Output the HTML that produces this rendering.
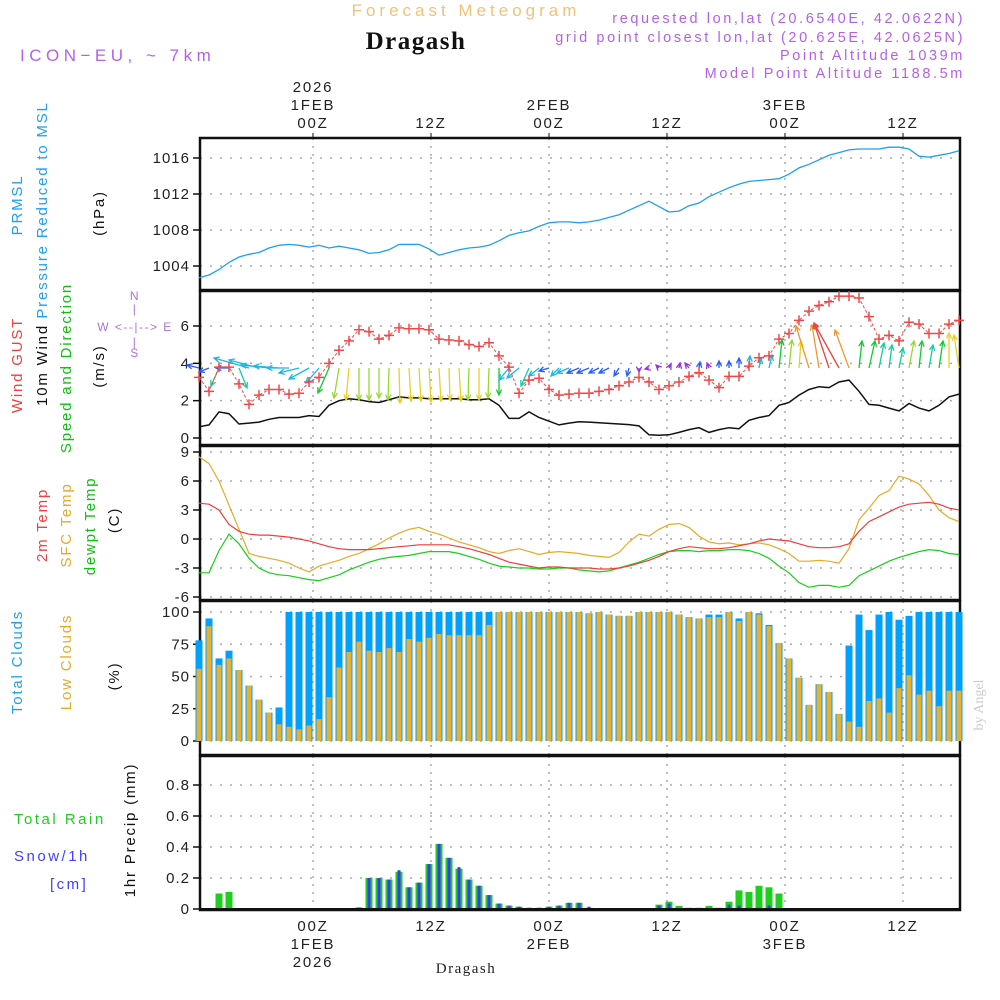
<!DOCTYPE html>
<html><head><meta charset="utf-8"><style>
body{margin:0;background:#fff;}
svg{display:block;font-family:"Liberation Sans",sans-serif;}
.t{font-size:15px;fill:#222;letter-spacing:1.8px;}
.tk{font-size:15px;fill:#222;letter-spacing:1px;text-anchor:end;}
.ax{font-size:15px;text-anchor:middle;fill:#222;letter-spacing:1.8px;}
</style></head><body>
<svg id="chart" width="1000" height="1000" viewBox="0 0 1000 1000">
<text x="466" y="16" text-anchor="middle" style="font-size:17px;fill:#f0c27a;letter-spacing:4px">Forecast Meteogram</text>
<text x="416" y="49" text-anchor="middle" style="font-size:25px;font-weight:bold;fill:#111;letter-spacing:1.5px;font-family:'Liberation Serif',serif">Dragash</text>
<text x="20" y="61" style="font-size:17px;fill:#b560e8;letter-spacing:4.5px">ICON−EU, ~ 7km</text>
<g style="font-size:14.5px;fill:#b560e8;letter-spacing:2.6px" text-anchor="end">
<text x="965" y="23">requested lon,lat (20.6540E, 42.0622N)</text>
<text x="965" y="42">grid point closest lon,lat (20.625E, 42.0625N)</text>
<text x="965" y="60">Point Altitude 1039m</text>
<text x="965" y="78">Model Point Altitude 1188.5m</text>
</g>
<g id="labels"></g>
<g id="plot"></g>
<text x="466" y="973" text-anchor="middle" style="font-size:15px;fill:#222;letter-spacing:1.5px;font-family:'Liberation Serif',serif">Dragash</text>
<text transform="translate(983,705) rotate(-90)" text-anchor="middle" style="font-size:14px;fill:#ccc;font-family:'Liberation Serif',serif">by Angel</text>
</svg>
<script>
const timeLabels = [{x:313,top:["2026","1FEB","00Z"],bot:["00Z","1FEB","2026"]},{x:431,top:["12Z"],bot:["12Z"]},{x:549,top:["2FEB","00Z"],bot:["00Z","2FEB"]},{x:667,top:["12Z"],bot:["12Z"]},{x:785,top:["3FEB","00Z"],bot:["00Z","3FEB"]},{x:903,top:["12Z"],bot:["12Z"]}];
const pressure = [1002.7,1003,1003.6,1004.4,1005,1005.3,1005.5,1006,1006.3,1006.4,1006.3,1006.1,1006.3,1006,1006.2,1006,1005.8,1005.4,1005.5,1005.8,1006.4,1006.4,1006.4,1005.9,1005.2,1005.5,1005.8,1006,1006.1,1006.3,1006.8,1007.4,1007.7,1007.9,1008.4,1008.8,1008.9,1008.9,1008.8,1008.9,1009.1,1009.4,1009.7,1010.2,1010.7,1011.2,1010.6,1010,1010.1,1010.7,1011,1011.7,1012.2,1012.7,1013.1,1013.4,1013.5,1013.6,1013.7,1014.2,1014.9,1015.3,1015.8,1016.3,1016.6,1016.9,1017,1017,1017,1017.2,1017.2,1017,1016.2,1016.1,1016.3,1016.5,1016.8];
const pressTicks = [1004,1008,1012,1016];
const gust = [3.25,2.5,3.8,3.8,2.9,1.8,2.3,2.6,2.6,2.35,2.4,3.0,3.25,4.0,4.7,5.2,5.8,5.7,5.3,5.5,5.9,5.85,5.85,5.8,5.3,5.25,5.2,5.0,4.9,5.1,4.4,3.8,2.4,3.1,3.2,2.6,2.3,2.35,2.4,2.4,2.5,2.6,2.8,3.0,3.25,3.0,2.6,2.8,3.0,3.3,3.5,3.1,2.7,3.3,3.3,3.85,4.3,4.4,5.3,5.6,6.3,6.8,7.1,7.3,7.6,7.6,7.5,6.5,5.3,5.5,5.2,6.2,6.1,5.6,5.6,6.1,6.3];
const wind10 = [0.6,0.7,1.4,1.3,0.75,0.8,0.85,1.0,1.1,1.1,1.1,1.2,1.15,1.75,2.0,2.1,2.05,1.95,1.9,2.05,2.2,2.15,2.15,2.1,2.1,2.1,2.1,2.05,2.05,2.1,1.75,1.05,1.05,1.4,1.1,0.9,0.7,0.8,0.87,0.85,0.82,0.78,0.75,0.72,0.65,0.17,0.15,0.17,0.3,0.45,0.55,0.3,0.45,0.55,0.5,0.95,1.1,1.2,1.75,1.9,2.3,2.6,2.75,2.7,3.0,3.1,2.5,1.8,1.75,1.6,1.45,1.85,1.6,1.45,1.75,2.2,2.35];
const windU = [-1.2,-1.0,-0.8,-1.3,0.8,-3.5,-3.0,-2.8,-2.5,-2.2,-2.0,-2.0,-1.3,-1.1,-0.5,-0.3,0,0,0,-0.1,0.1,0.2,0.2,0.2,0.2,0.1,0.2,-0.1,0,-0.1,0,-1.0,-1.2,-0.8,-1.0,-1.0,-0.8,-1.2,-1.2,-1.2,-1.0,-1.0,-0.5,-0.2,0,-0.4,-0.3,0.2,0.1,-0.4,0.1,-0.2,0,0,0,0.1,0.2,0.3,0.3,0.3,0.2,-1.3,-0.7,-1.5,-2.5,-1.4,0.3,0.6,0.5,0.3,0.4,0.5,0.3,0.4,0.4,0,-0.5];
const windV = [0.3,-0.4,-1.8,0,-2.0,1.0,0.8,0.3,0.2,0,-0.5,-1.1,-1.5,-2.5,-3.0,-3.2,-3.2,-3.2,-3.0,-3.2,-3.5,-3.3,-3.3,-3.4,-3.3,-3.2,-3.3,-3.2,-3.2,-3.0,-2.7,-1.2,-1.0,-1.8,-0.8,-0.3,-0.8,-0.5,-0.5,-0.5,-0.5,-0.5,-0.8,-0.8,-0.4,-0.1,0.3,0.4,0.5,0.5,0.6,0.5,0.7,0.7,1.0,1.2,1.0,1.3,2.8,2.8,2.7,4.2,4.3,4.5,4.5,3.8,2.7,2.7,2.5,2.3,2.0,2.7,2.7,2.3,2.7,3.5,3.3];
const windSpd = [1.5,1.5,3.2,1.5,3.2,2.5,2.5,2.5,2.5,2.5,2.5,2.5,2.5,3.8,4.3,4.8,4.3,4.3,4.3,4.3,4.8,4.8,4.8,4.8,4.8,4.8,4.8,4.3,4.8,4.3,3.8,2.2,2.5,3.2,2.5,1.5,2.5,2.5,1.5,1.5,1.5,1.5,1.5,1.5,0.5,0.5,0.5,0.5,0.5,0.5,1.5,0.5,1.5,1.5,1.5,2.5,2.5,2.5,3.8,4.3,4.8,5.5,5.5,6.5,6.5,5.5,3.8,3.8,3.2,3.2,3.2,4.3,3.8,3.2,3.8,4.8,4.8];
const windTicks = [0,2,4,6];
const temp2m = [3.7,3.6,3,1.5,0.8,0.5,0.4,0.4,0.3,0.2,0,-0.2,-0.5,-0.8,-1,-1.1,-1.1,-1.1,-1,-0.9,-0.8,-0.7,-0.6,-0.6,-0.6,-0.6,-0.8,-1,-1.3,-1.6,-2,-2.4,-2.6,-2.8,-3,-2.9,-2.9,-3,-3,-3,-3.1,-3.1,-3,-2.8,-2.5,-2.2,-1.8,-1.3,-1,-0.8,-0.9,-1,-1,-0.9,-0.7,-0.5,-0.2,0,-0.1,-0.2,-0.5,-0.8,-0.9,-0.9,-0.8,-0.5,0.8,1.8,2.3,2.8,3.3,3.6,3.7,3.8,3.6,3.2,3.0];
const tempSfc = [8.5,7.8,6,3.5,1,-1.5,-1.8,-2,-2.2,-2.5,-3,-3.4,-2.8,-2.5,-2.2,-1.8,-1.5,-1,-0.5,0.1,0.6,1,1.2,0.8,0.5,0.1,-0.3,-0.6,-0.9,-1.3,-1.5,-1.2,-1,-1.3,-1.6,-1.4,-1.3,-1.4,-1.5,-1.7,-1.8,-1.9,-1.4,-0.3,0.5,0.3,1,1.5,1.6,1.2,0.3,-0.3,-0.5,-0.4,-0.6,-0.5,-0.4,-0.6,-1,-1.5,-2.3,-2.3,-2.2,-2.3,-2.5,-1,2,3.2,4.5,5,6.5,6.2,5.7,4.5,3,2.2,1.8];
const dewpt = [-3.5,-3.5,-1.2,0.5,-0.5,-2,-3,-3.5,-3.7,-3.8,-4,-4.2,-4.3,-4,-3.7,-3.2,-2.8,-2.4,-2.1,-1.9,-1.8,-1.7,-1.5,-1.3,-1.3,-1.3,-1.5,-1.8,-2.1,-2.5,-2.8,-2.9,-3,-3,-3.1,-3.1,-3,-3,-3.2,-3.3,-3.4,-3.3,-3,-2.7,-2.4,-2,-1.6,-1.3,-1.2,-1.2,-1.3,-1.2,-1.2,-1.1,-1.1,-1.2,-1.5,-2,-2.8,-3.5,-4.5,-5,-4.8,-4.8,-5,-4.8,-3.8,-3.3,-2.8,-2.3,-1.9,-1.6,-1.3,-1.1,-1.2,-1.5,-1.6];
const tempTicks = [-6,-3,0,3,6,9];
const cloudTotal = [78,95,64,70,55,43,32,22,26,100,100,100,100,100,100,100,100,100,100,100,100,100,100,100,100,100,100,100,100,100,100,100,100,100,100,100,100,100,100,99,100,98,97,97,100,100,100,100,98,96,95,98,98,100,95,100,99,90,76,64,49,28,44,38,21,74,98,86,98,100,94,97,100,100,100,100,100];
const cloudLow = [56,89,59,64,55,43,32,22,13,11,9,12,17,34,57,69,77,70,69,72,69,79,77,80,83,82,82,82,82,90,100,100,100,100,100,100,100,100,100,99,100,98,97,97,100,100,100,100,98,96,95,96,96,100,93,100,98,89,76,64,49,28,44,38,21,15,11,31,33,22,41,51,36,39,27,39,39];
const cloudTicks = [0,25,50,75,100];
const rain = [0,0,0.10,0.11,0,0,0,0,0,0,0,0,0,0,0,0,0.01,0.20,0.20,0.19,0.24,0.14,0.17,0.29,0.42,0.33,0.26,0.19,0.15,0.09,0.035,0.022,0.015,0.008,0.008,0.015,0.022,0.04,0.04,0.008,0,0,0,0,0,0,0.028,0.047,0.02,0.008,0.008,0.02,0.008,0.047,0.12,0.11,0.15,0.14,0.10,0,0,0,0,0,0,0,0,0,0,0,0,0,0,0,0,0,0];
const snow = [0,0,0,0,0,0,0,0,0,0,0,0,0,0,0,0,0.01,0.20,0.20,0.19,0.25,0.14,0.17,0.29,0.42,0.33,0.27,0.19,0.15,0.09,0.035,0.022,0.015,0.008,0.008,0.015,0.022,0.04,0.04,0.015,0.003,0.003,0.003,0.003,0.003,0.003,0.022,0.035,0.005,0,0,0.005,0,0.028,0.022,0.008,0.008,0.022,0.005,0,0,0,0,0,0,0,0,0,0,0,0,0,0,0,0,0,0];
const precipTicks = [0,0.2,0.4,0.6,0.8];

const NS="http://www.w3.org/2000/svg";
const plot=document.getElementById('plot');
const labels=document.getElementById('labels');
const L=200,R=960;
const xi=i=>199+10*i;
function mk(tag,attrs,parent){const e=document.createElementNS(NS,tag);for(const k in attrs)e.setAttribute(k,attrs[k]);(parent||plot).appendChild(e);return e;}
function lin(d0,d1,p0,p1){return v=>p0+(v-d0)*(p1-p0)/(d1-d0);}
const panels=[
 {top:138,bot:290,y:lin(1004,1016,266,158),ticks:pressTicks,fmt:v=>v,name:'pressure'},
 {top:291,bot:445,y:lin(0,6,438,326),ticks:windTicks,fmt:v=>v,name:'wind'},
 {top:446,bot:600,y:lin(-6,9,597,452),ticks:tempTicks,fmt:v=>v,name:'temperature'},
 {top:601,bot:755,y:lin(0,100,741,612),ticks:cloudTicks,fmt:v=>v,name:'clouds'},
 {top:756,bot:910,y:lin(0,0.8,909,785),ticks:precipTicks,fmt:v=>v===0?'0':v.toFixed(1),name:'precip'}
];
panels.forEach(p=>{
 const g=mk('g',{});
 
 
 timeLabels.forEach(t=>{
  const l=mk('line',{x1:t.x,x2:t.x,y1:p.top,y2:p.bot,stroke:'#aaa','stroke-width':1.5,'stroke-dasharray':'2,6'},g);
  
  
 });
 p.ticks.forEach(v=>{
  const y=p.y(v);
  const l=mk('line',{x1:L,x2:R,y1:y,y2:y,stroke:'#aaa','stroke-width':1.5,'stroke-dasharray':'2,8'},g);
  
  
  mk('line',{x1:L-7,x2:L,y1:y,y2:y,stroke:'#111','stroke-width':1.5},g);
  const t=mk('text',{x:L-10,y:y+5,class:'tk'},g);t.textContent=p.fmt(v);
  
  
 });
 const b=mk('rect',{x:L,y:p.top,width:R-L,height:p.bot-p.top,fill:'none',stroke:'#111','stroke-width':2.5},g);
 
 
 p.g=g;
});
function line(arr,p,color,w,name){
 const d=arr.map((v,i)=>(i?'L':'M')+xi(i)+','+p.y(v).toFixed(1)).join('');
 const e=mk('path',{d:d,fill:'none',stroke:color,'stroke-width':w},p.g);
 
 
 return e;
}
line(pressure,panels[0],'#1ea0f0',1.3,'pressure-line');
line(wind10,panels[1],'#111',1.5,'wind-10m-line');
function spdColor(s){return s<1?'#9a30e0':s<2?'#2a5cff':s<2.8?'#18b8e8':s<3.5?'#10d0a0':s<4?'#10cc30':s<4.5?'#9ad830':s<5?'#e8d028':s<6?'#f09830':'#f04040';}
const base=panels[1].y(3.75);
windU.forEach((u,i)=>{
 const x0=xi(i),x1=x0+u*10,y1=base-windV[i]*10;
 const c=spdColor(windSpd[i]);
 const ang=Math.atan2(y1-base,x1-x0),h=6;
 const d='M'+x0+','+base+'L'+x1.toFixed(1)+','+y1.toFixed(1)+'M'+(x1-h*Math.cos(ang-0.45)).toFixed(1)+','+(y1-h*Math.sin(ang-0.45)).toFixed(1)+'L'+x1.toFixed(1)+','+y1.toFixed(1)+'L'+(x1-h*Math.cos(ang+0.45)).toFixed(1)+','+(y1-h*Math.sin(ang+0.45)).toFixed(1);
 const a=mk('path',{d:d,fill:'none',stroke:c,'stroke-width':1.3},panels[1].g);
 
 
});
const gl=line(gust,panels[1],'#f04848',1,'wind-gust-line');
gl.setAttribute('stroke-dasharray','3,2');
gust.forEach((v,i)=>{
 const x=xi(i),y=panels[1].y(v);
 const m=mk('path',{d:`M${x-5},${y}L${x+5},${y}M${x},${y-5}L${x},${y+5}`,stroke:'#f04848','stroke-width':1.5},panels[1].g);
 
 
});
line(tempSfc,panels[2],'#e8a828',1.2,'sfc-temp-line');
line(dewpt,panels[2],'#18d018',1.2,'dewpoint-line');
line(temp2m,panels[2],'#f03c3c',1.2,'temp-2m-line');
const cp=panels[3];
cloudTotal.forEach((v,i)=>{
 const x=xi(i),y=cp.y(v);
 const r=mk('rect',{x:x-3.5,y:y,width:7,height:cp.y(0)-y,fill:'#00a0ff'},cp.g);
 
 
 const y2=cp.y(cloudLow[i]);
 const r2=mk('rect',{x:x-2.5,y:y2,width:5,height:cp.y(0)-y2,fill:'#e8b030'},cp.g);
 
 
});
const pp=panels[4];
rain.forEach((v,i)=>{
 const x=xi(i),y=pp.y(v);
 if(v>0){const r=mk('rect',{x:x-3.5,y:y,width:7,height:pp.y(0)-y,fill:'#20cc20'},pp.g);
 
 }
 if(snow[i]>0){const y2=pp.y(snow[i]);const s=mk('rect',{x:x-1.5,y:y2,width:3,height:pp.y(0)-y2,fill:'#3a3aff'},pp.g);
 
 }
});
mk('line',{x1:L,x2:R,y1:909,y2:909,stroke:'#111','stroke-width':2},pp.g);
timeLabels.forEach(t=>{
 t.top.forEach((s,k)=>{const e=mk('text',{x:t.x,y:128-(t.top.length-1-k)*18,class:'ax'},labels);e.textContent=s;
  
  });
 t.bot.forEach((s,k)=>{const e=mk('text',{x:t.x,y:931+k*18,class:'ax'},labels);e.textContent=s;
  
  });
 mk('line',{x1:t.x,x2:t.x,y1:133,y2:138,stroke:'#111'},labels);
});
const rl=[["PRMSL",22,205,'#1ea0f0'],["Pressure Reduced to MSL",47,210,'#1ea0f0'],["(hPa)",104,213,'#111'],
["Wind GUST",22,365,'#f04040'],["10m Wind",47,365,'#111'],["Speed and Direction",71,368,'#10c010'],["(m/s)",104,366,'#111'],
["2m Temp",47,525,'#f04040'],["SFC Temp",71,525,'#e8a828'],["dewpt Temp",95,526,'#10c010'],["(C)",119,520,'#111'],
["Total Clouds",22,662,'#1ea0f0'],["Low Clouds",71,662,'#e8a828'],["(%)",119,676,'#111'],
["1hr Precip (mm)",135,830,'#111']];
rl.forEach(r=>{const e=mk('text',{transform:`translate(${r[1]},${r[2]}) rotate(-90)`,'text-anchor':'middle',class:'t',style:'fill:'+r[3]},labels);e.textContent=r[0];
 
 });
const hl=[["Total  Rain",14,824,'#20cc20'],["Snow/1h",14,861,'#4040ff'],["[cm]",50,889,'#4040ff']];
hl.forEach(r=>{const e=mk('text',{x:r[1],y:r[2],class:'t',style:'fill:'+r[3]+';letter-spacing:2.5px'},labels);e.textContent=r[0];
 
 });
const comp=[["N",135,300],["W <--|--> E",135,331],["S",135,357],["|",135,313],["|",135,346]];
comp.forEach(c=>{const e=mk('text',{x:c[1],y:c[2],'text-anchor':'middle',style:'font-size:12px;fill:#b070e0;letter-spacing:1.5px'},labels);e.textContent=c[0];
 
 });
</script>
</body></html>
